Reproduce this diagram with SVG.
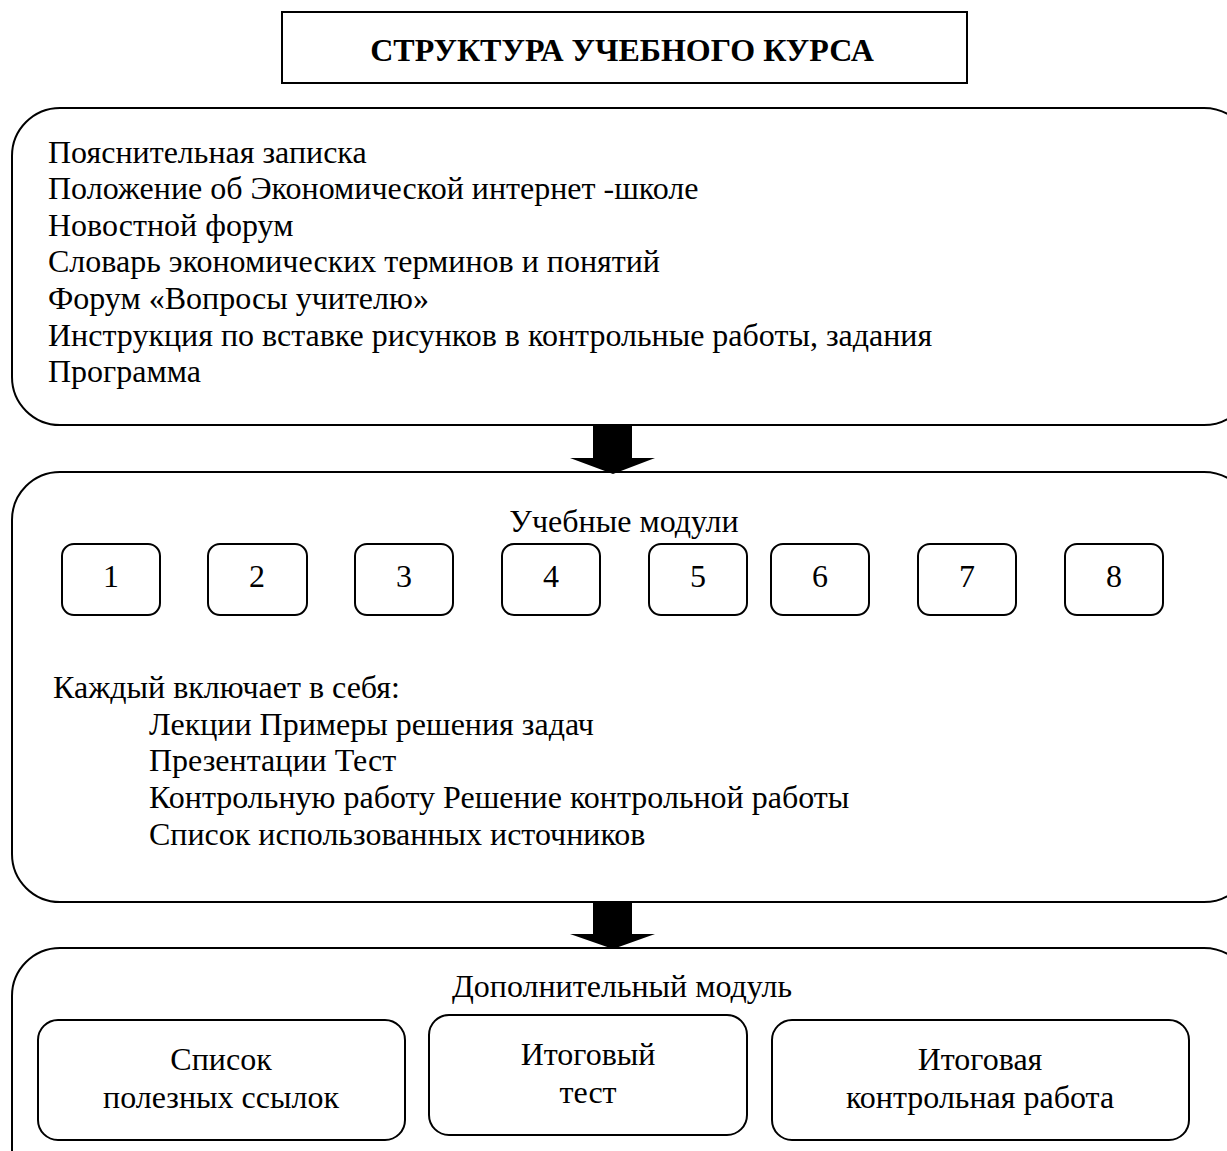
<svg xmlns="http://www.w3.org/2000/svg" width="1227" height="1151" viewBox="0 0 1227 1151">
<style>
.box{fill:#fff;stroke:#000;stroke-width:2}
.t{font-family:"Liberation Serif","Times New Roman",serif;font-size:32px;fill:#000}
.c{text-anchor:middle}
.title{font-weight:bold;font-size:32px}
.arrow{fill:#000}
</style>
<rect width="1227" height="1151" fill="#fff"/>
<g id="title">
<rect class="box" x="282" y="12" width="685" height="71"/>
<text class="t c title" x="622" y="61">СТРУКТУРА УЧЕБНОГО КУРСА</text>
</g>
<g id="intro">
<rect class="box" x="12" y="108" width="1240" height="317" rx="48" ry="48"/>
<text class="t" x="48" y="163">Пояснительная записка</text>
<text class="t" x="48" y="199">Положение об Экономической интернет -школе</text>
<text class="t" x="48" y="236">Новостной форум</text>
<text class="t" x="48" y="272">Словарь экономических терминов и понятий</text>
<text class="t" x="48" y="309">Форум «Вопросы учителю»</text>
<text class="t" x="48" y="346">Инструкция по вставке рисунков в контрольные работы, задания</text>
<text class="t" x="48" y="382">Программа</text>
</g>
<g id="modules">
<rect class="box" x="12" y="472" width="1240" height="430" rx="48" ry="48"/>
<text class="t c" x="624" y="532">Учебные модули</text>
<text class="t" x="53" y="698">Каждый включает в себя:</text>
<text class="t" x="149" y="735">Лекции Примеры решения задач</text>
<text class="t" x="149" y="771">Презентации Тест</text>
<text class="t" x="149" y="808">Контрольную работу Решение контрольной работы</text>
<text class="t" x="149" y="845">Список использованных источников</text>
</g>
<g id="m1"><rect class="box" x="62" y="544" width="98" height="71" rx="12"/><text class="t c" x="111" y="587">1</text></g>
<g id="m2"><rect class="box" x="208" y="544" width="99" height="71" rx="12"/><text class="t c" x="257" y="587">2</text></g>
<g id="m3"><rect class="box" x="355" y="544" width="98" height="71" rx="12"/><text class="t c" x="404" y="587">3</text></g>
<g id="m4"><rect class="box" x="502" y="544" width="98" height="71" rx="12"/><text class="t c" x="551" y="587">4</text></g>
<g id="m5"><rect class="box" x="649" y="544" width="98" height="71" rx="12"/><text class="t c" x="698" y="587">5</text></g>
<g id="m6"><rect class="box" x="771" y="544" width="98" height="71" rx="12"/><text class="t c" x="820" y="587">6</text></g>
<g id="m7"><rect class="box" x="918" y="544" width="98" height="71" rx="12"/><text class="t c" x="967" y="587">7</text></g>
<g id="m8"><rect class="box" x="1065" y="544" width="98" height="71" rx="12"/><text class="t c" x="1114" y="587">8</text></g>
<g id="extra">
<rect class="box" x="12" y="948" width="1240" height="260" rx="48" ry="48"/>
<text class="t c" x="622" y="997">Дополнительный модуль</text>
</g>
<g id="links">
<rect class="box" x="38" y="1020" width="367" height="120" rx="20"/>
<text class="t c" x="221" y="1070">Список</text>
<text class="t c" x="221" y="1108">полезных ссылок</text>
</g>
<g id="finaltest">
<rect class="box" x="429" y="1015" width="318" height="120" rx="20"/>
<text class="t c" x="588" y="1065">Итоговый</text>
<text class="t c" x="588" y="1103">тест</text>
</g>
<g id="finalwork">
<rect class="box" x="772" y="1020" width="417" height="120" rx="20"/>
<text class="t c" x="980" y="1070">Итоговая</text>
<text class="t c" x="980" y="1108">контрольная работа</text>
</g>
<g id="connectors">
<polygon class="arrow" points="593,425 632,425 632,458 655,458 613,474 570,458 593,458"/>
<polygon class="arrow" points="593,901 632,901 632,934 655,934 613,949 570,934 593,934"/>
</g>
</svg>
